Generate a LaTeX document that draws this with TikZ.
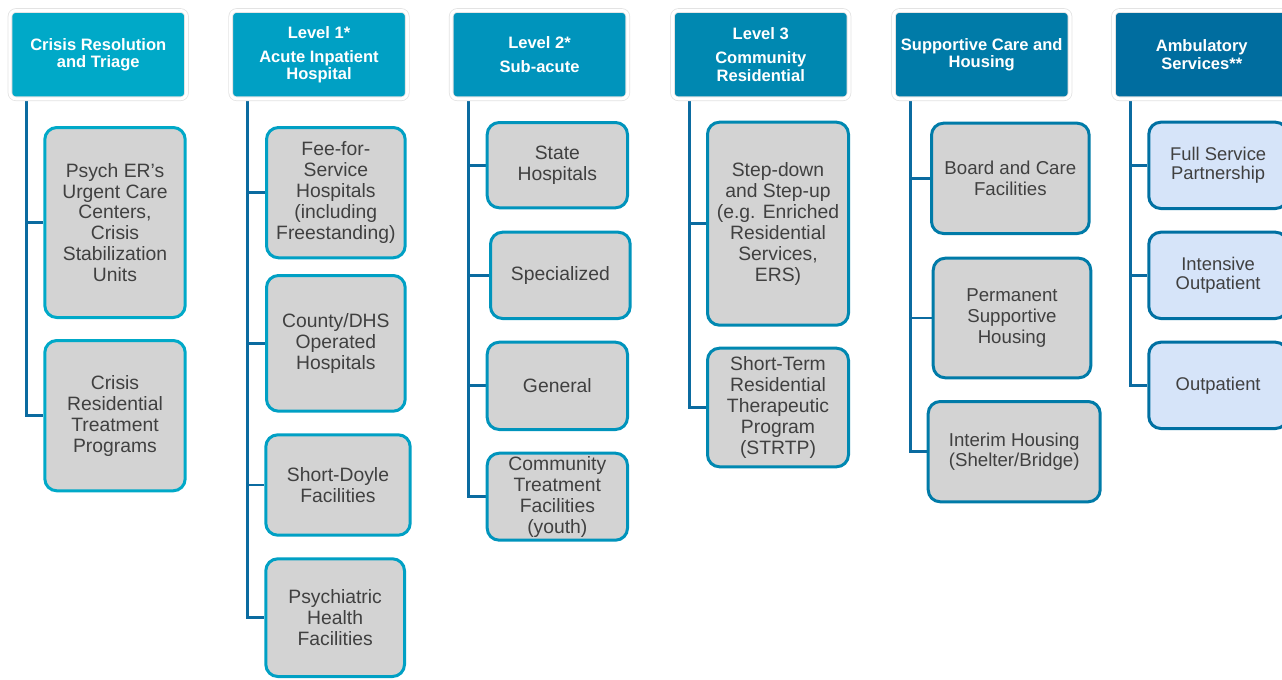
\documentclass[tikz,border=0pt]{standalone}
\usepackage{fontspec}
\setmainfont{Liberation Sans}
\usetikzlibrary{calc,backgrounds}
\definecolor{hA}{HTML}{00A9C8}
\definecolor{hB}{HTML}{00A0C4}
\definecolor{hC}{HTML}{0094BC}
\definecolor{hD}{HTML}{0088B1}
\definecolor{hE}{HTML}{007BA8}
\definecolor{hF}{HTML}{006D9F}
\definecolor{bordF}{HTML}{0070A2}
\definecolor{boxgray}{HTML}{D3D3D3}
\definecolor{boxblue}{HTML}{D6E4F9}
\definecolor{txtgray}{HTML}{404040}
\definecolor{connc}{HTML}{0B6BA0}
\newcommand\mybox[7]{%
  \node[#1, minimum width={(#4-#3-3)*0.75pt}, minimum height={(#6-#5-3)*0.75pt}]
    (#2) at ({(#3+#4)/2},{(#5+#6)/2}) {#7};}
\begin{document}
\begin{tikzpicture}[x=0.75pt,y=-0.75pt,
  hdr/.style={fill=#1, rounded corners=4.5pt, draw=gray!22, line width=0.6pt,
    double=white, double distance=2.25pt, minimum width=132.4pt,
    minimum height=66.2pt, inner sep=0pt, text=white, align=center,
    font=\fontsize{12.4}{13.3}\selectfont\bfseries},
  gbox/.style={draw=#1, fill=boxgray, line width=2.25pt, rounded corners=9pt,
    inner sep=0pt, align=center, text=txtgray,
    font=\fontsize{14.5}{15.7}\selectfont},
  bbox/.style={draw=bordF, fill=boxblue, line width=2.25pt, rounded corners=9pt,
    inner sep=0pt, align=center, text=txtgray,
    font=\fontsize{13.8}{14.4}\selectfont},
  conn/.style={draw=connc, line width=2.1pt}]
\useasboundingbox (0,0) rectangle (1282,679);
\clip (0,0) rectangle (1282,679);

% headers
\node[hdr=hA] (h1) at (98.25,54.65) {Crisis Resolution\\and Triage};
\node[hdr=hB] (h2) at (319,54.65) {Level 1*\\[4.7pt]Acute Inpatient\\Hospital};
\node[hdr=hC] (h3) at (539.5,54.65) {Level 2*\\[4.2pt]Sub-acute};
\node[hdr=hD] (h4) at (760.75,54.65) {Level 3\\[4.7pt]Community\\Residential};
\node[hdr=hE] (h5) at (981.75,54.65) {Supportive Care and\\Housing};
\node[hdr=hF] (h6) at (1201.75,54.65) {Ambulatory\\Services**};

% column 1
\mybox{gbox=hA}{b11}{43.3}{186.7}{126}{319}{Psych ER’s\\Urgent Care\\Centers,\\Crisis\\Stabilization\\Units}
\mybox{gbox=hA}{b12}{43.3}{186.7}{339}{492.3}{Crisis\\Residential\\Treatment\\Programs}
% column 2
\mybox{gbox=hB}{b21}{265}{406.7}{126}{259.3}{Fee-for-\\Service\\Hospitals\\(including\\Freestanding)}
\mybox{gbox=hB}{b22}{265}{406.7}{274}{412.7}{County/DHS\\Operated\\Hospitals}
\mybox{gbox=hB}{b23}{264.3}{411.7}{433.3}{536.7}{Short-Doyle\\Facilities}
\mybox{gbox=hB}{b24}{264.3}{406}{557.3}{678}{Psychiatric\\Health\\Facilities}
% column 3
\mybox{gbox=hC}{b31}{485.7}{629}{121}{209.3}{State\\Hospitals}
\mybox{gbox=hC}{b32}{489}{631.7}{230.7}{320}{Specialized}
\mybox{gbox=hC}{b33}{485.7}{629}{340.7}{431}{General}
\mybox{gbox=hC}{b34}{485.7}{629}{451.7}{541.7}{Community\\Treatment\\Facilities\\(youth)}
% column 4
\mybox{gbox=hD}{b41}{706}{850}{120.7}{326.7}{Step-down\\and Step-up\\(e.g. Enriched\\Residential\\Services,\\ERS)}
\mybox{gbox=hD}{b42}{706}{850}{346.7}{468.3}{Short-Term\\Residential\\Therapeutic\\Program\\(STRTP)}
% column 5
\mybox{gbox=hE,font=\fontsize{14}{15.7}\selectfont}{b51}{930}{1090.7}{121.7}{235}{Board and Care\\Facilities}
\mybox{gbox=hE,font=\fontsize{14}{15.7}\selectfont}{b52}{931.7}{1092.3}{256.7}{379.3}{Permanent\\Supportive\\Housing}
\mybox{gbox=hE,font=\fontsize{14}{15.7}\selectfont}{b53}{926.7}{1101.7}{400}{503.3}{Interim Housing\\(Shelter/Bridge)}
% column 6
\mybox{bbox}{b61}{1147.3}{1289}{120.7}{210}{Full Service\\Partnership}
\mybox{bbox}{b62}{1147.3}{1289}{230.7}{320}{Intensive\\Outpatient}
\mybox{bbox}{b63}{1147.3}{1289}{340.7}{430}{Outpatient}

% connectors
\begin{scope}[on background layer]
\foreach \h/\b in {h1/b11,h1/b12,h2/b21,h2/b22,h2/b23,h2/b24,
                   h3/b31,h3/b32,h3/b33,h3/b34,h4/b41,h4/b42,
                   h5/b51,h5/b52,h5/b53,h6/b61,h6/b62,h6/b63}
  \draw[conn] ($(\h.south west)+(17.3,1.5)$) |- (\b.west);
\end{scope}
\end{tikzpicture}
\end{document}
